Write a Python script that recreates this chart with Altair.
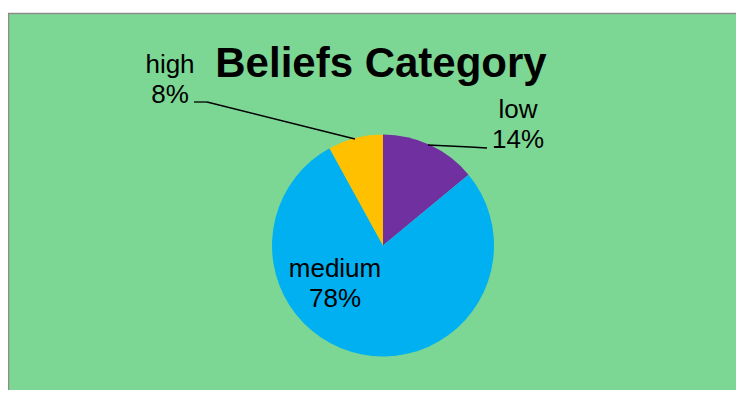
import altair as alt
import pandas as pd

# ---- data ----
categories = ["low", "medium", "high"]
percents = [14, 78, 8]
colors = ["#7030a0", "#00b0f0", "#ffc000"]
title_text = "Beliefs Category"

df = pd.DataFrame({
    "category": categories,
    "percent": percents,
    "order": list(range(len(categories))),
})
one = pd.DataFrame({"a": [0]})

W, H = 728, 382
FONT = "Liberation Sans"
CX, CY, R = 375, 237.5, 111

# background panel
bg = alt.Chart(one).mark_rect(fill="#7cd794", stroke=None).encode(
    x=alt.value(0), x2=alt.value(W), y=alt.value(5), y2=alt.value(H)
)
border_left = alt.Chart(one).mark_rule(color="#8c8c8c", strokeWidth=1.5).encode(
    x=alt.value(0.5), y=alt.value(5), y2=alt.value(H)
)
border_top = alt.Chart(one).mark_rule(color="#8c8c8c", strokeWidth=1.5).encode(
    x=alt.value(0), x2=alt.value(W), y=alt.value(5.5)
)

pie = alt.Chart(df).mark_arc(radius=R, stroke=None).encode(
    theta=alt.Theta("percent:Q", stack=True),
    color=alt.Color("category:N",
                    scale=alt.Scale(domain=categories, range=colors),
                    legend=None),
    order=alt.Order("order:Q"),
    x=alt.value(CX),
    y=alt.value(CY),
)

def label(cat, x, y):
    return alt.Chart(df).transform_filter(
        alt.datum.category == cat
    ).transform_calculate(
        lbl="datum.category + '\\n' + datum.percent + '%'"
    ).mark_text(
        font=FONT, fontSize=26, lineHeight=30, align="center",
        baseline="alphabetic", color="#000000", lineBreak="\n"
    ).encode(text="lbl:N", x=alt.value(x), y=alt.value(y))

lab_high = label("high", 162, 65)
lab_low = label("low", 510, 110)
lab_med = label("medium", 327, 269)

def seg(x1, y1, x2, y2):
    return alt.Chart(one).mark_rule(color="#000000", strokeWidth=1.3).encode(
        x=alt.value(x1), y=alt.value(y1), x2=alt.value(x2), y2=alt.value(y2)
    )

lines = [
    seg(186, 94, 199, 94),
    seg(199, 94, 347, 131),
    seg(420, 137, 462, 139),
    seg(462, 139, 479, 140),
]

title = alt.Chart(one).mark_text(
    font=FONT, fontSize=42, fontWeight="bold", align="center",
    baseline="alphabetic", color="#000000"
).encode(text=alt.value(title_text), x=alt.value(373), y=alt.value(69))

chart = alt.layer(
    bg, border_left, border_top, pie, *lines, lab_high, lab_low, lab_med, title
).properties(
    width=W, height=H,
    autosize=alt.AutoSizeParams(type="none"),
    padding=0,
    background="white",
).configure_view(stroke=None)

chart.save("out.html", embed_options={"renderer": "svg", "actions": False})
